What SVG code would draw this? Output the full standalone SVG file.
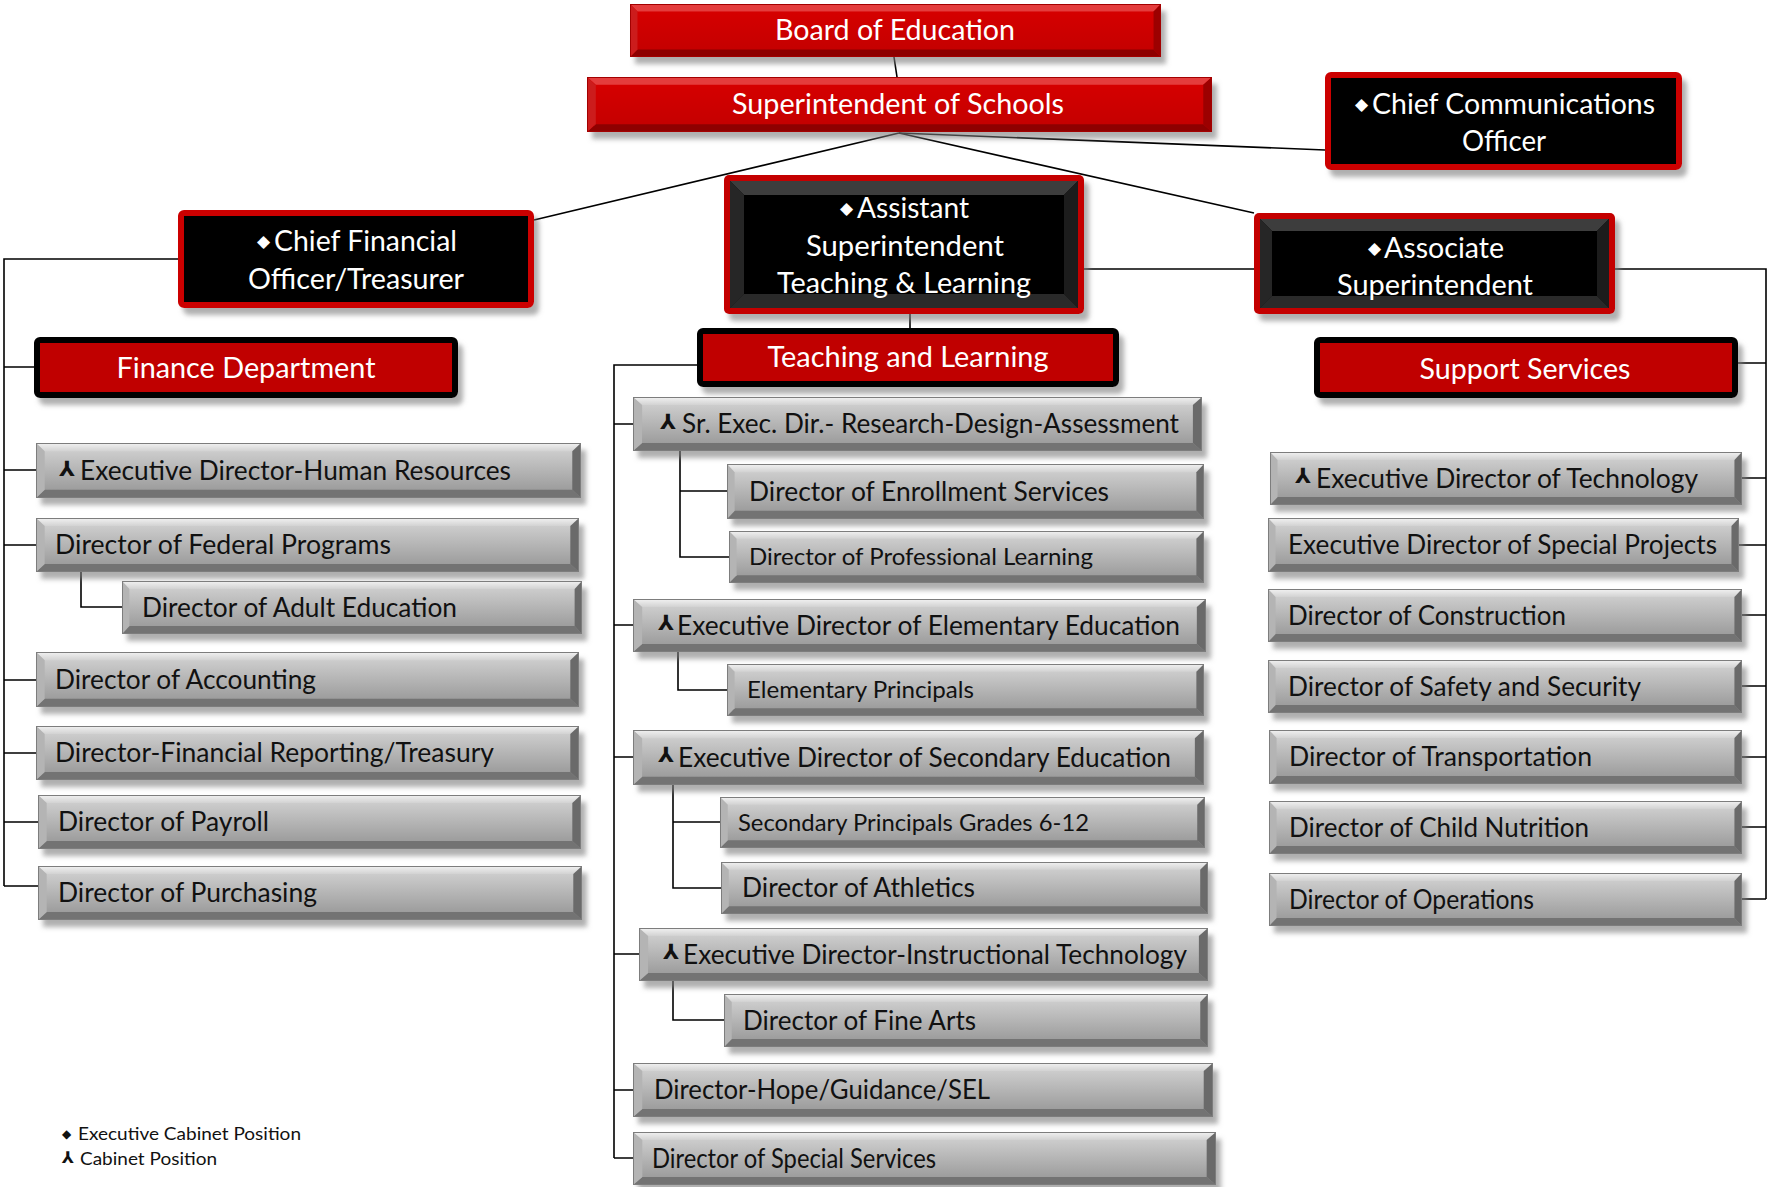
<svg xmlns="http://www.w3.org/2000/svg" xmlns:xlink="http://www.w3.org/1999/xlink" width="1773" height="1187" viewBox="0 0 1773 1187">
<style>
.conn{stroke:#000;stroke-width:1.6;fill:none}
.tw{fill:#fff;font-family:Lato,"Liberation Sans",sans-serif;font-size:28px}
.tg{fill:#111;font-family:Lato,"Liberation Sans",sans-serif;font-size:26px}
.ts{font-size:23px}
.sym{font-family:"DejaVu Sans",sans-serif;font-size:17px}
.yy{font-family:"DejaVu Sans",sans-serif;font-size:21px;font-weight:bold}
.symw{fill:#fff}
.symg{fill:#111}
.mid{text-anchor:middle}
.leg{fill:#111;font-family:Lato,"Liberation Sans",sans-serif;font-size:18px}
</style>
<defs>
<filter id="sh" x="-5%" y="-15%" width="115%" height="150%">
<feDropShadow dx="5" dy="7" stdDeviation="2.5" flood-color="#7a7a7a" flood-opacity="0.6"/>
</filter>
<linearGradient id="gGrey" x1="0" y1="0" x2="0" y2="1">
<stop offset="0" stop-color="#d6d6d6"/><stop offset="1" stop-color="#939393"/>
</linearGradient>
<linearGradient id="gGreyTop" x1="0" y1="0" x2="0" y2="1">
<stop offset="0" stop-color="#f2f2f2"/><stop offset="1" stop-color="#d2d2d2"/>
</linearGradient>
<linearGradient id="gRed" x1="0" y1="0" x2="0" y2="1">
<stop offset="0" stop-color="#d80000"/><stop offset="1" stop-color="#c20000"/>
</linearGradient>
<symbol id="bvGrey" viewBox="0 0 100 10" preserveAspectRatio="none">
<rect width="100" height="10" fill="url(#gGrey)"/>
<polygon points="0,0 100,0 98.4,1.5 1.6,1.5" fill="url(#gGreyTop)"/>
<polygon points="0,10 100,10 98.4,8.5 1.6,8.5" fill="#737373"/>
<polygon points="0,0 1.6,1.5 1.6,8.5 0,10" fill="#b4b4b4"/>
<polygon points="100,0 98.4,1.5 98.4,8.5 100,10" fill="#6a6a6a"/>
<rect width="100" height="10" fill="none" stroke="#7d7d7d" stroke-width="2" vector-effect="non-scaling-stroke"/>
</symbol>
<symbol id="bvRed" viewBox="0 0 100 10" preserveAspectRatio="none">
<rect width="100" height="10" fill="url(#gRed)"/>
<polygon points="0,0 100,0 98.6,1.4 1.4,1.4" fill="#e43c3c"/>
<polygon points="0,10 100,10 98.6,8.6 1.4,8.6" fill="#8e0000"/>
<polygon points="0,0 1.4,1.4 1.4,8.6 0,10" fill="#cc1a1a"/>
<polygon points="100,0 98.6,1.4 98.6,8.6 100,10" fill="#9c0000"/>
<rect width="100" height="10" fill="none" stroke="#a30000" stroke-width="2" vector-effect="non-scaling-stroke"/>
</symbol>
</defs>
<rect width="1773" height="1187" fill="#fff"/>

<g id="connectors">
<path class="conn" d="M894,57 L897,77"/>
<path class="conn" d="M899,133 L534,220"/>
<path class="conn" d="M899,133 L1254,213"/>
<path class="conn" d="M899,133 L1325,150"/>
<path class="conn" d="M910,314 V328"/>
<path class="conn" d="M1084,269 H1254"/>
<path class="conn" d="M1615,269 H1766 V899"/>
<path class="conn" d="M1738,363 H1766 M1742,478 H1766 M1739,545 H1766 M1742,615 H1766 M1742,686 H1766 M1742,757 H1766 M1742,827 H1766 M1742,899 H1766"/>
<path class="conn" d="M178,259 H4 V886"/>
<path class="conn" d="M4,367 H34 M4,470 H36 M4,545 H36 M4,680 H36 M4,753 H36 M4,822 H38 M4,886 H38"/>
<path class="conn" d="M81,572 V607 H122"/>
<path class="conn" d="M697,365 H614 V1158"/>
<path class="conn" d="M614,424 H633 M614,625 H633 M614,757 H633 M614,954 H639 M614,1090 H633 M614,1158 H633"/>
<path class="conn" d="M680,451 V557 H729 M680,491 H727"/>
<path class="conn" d="M678,652 V690 H727"/>
<path class="conn" d="M673,785 V888 H721 M673,822 H720"/>
<path class="conn" d="M673,981 V1020 H724"/>
</g>

<g id="board">
<use xlink:href="#bvRed" x="630" y="4" width="531" height="53" filter="url(#sh)"/>
<text class="tw mid" x="895" y="40" textLength="240" lengthAdjust="spacingAndGlyphs">Board of Education</text>
</g>
<g id="superintendent">
<use xlink:href="#bvRed" x="587" y="77" width="625" height="55" filter="url(#sh)"/>
<text class="tw mid" x="898" y="114" textLength="332" lengthAdjust="spacingAndGlyphs">Superintendent of Schools</text>
</g>
<g id="cco">
<rect x="1328" y="75" width="351" height="92" rx="3" fill="#000" stroke="#cc0000" stroke-width="6" filter="url(#sh)"/>
<text class="sym symw" x="1355" y="110">◆</text>
<text class="tw" x="1372" y="114" textLength="283" lengthAdjust="spacingAndGlyphs">Chief Communications</text>
<text class="tw mid" x="1504" y="151" textLength="84" lengthAdjust="spacingAndGlyphs">Officer</text>
</g>
<g id="cfo">
<rect x="181" y="213" width="350" height="92" rx="3" fill="#000" stroke="#cc0000" stroke-width="6" filter="url(#sh)"/>
<text class="sym symw" x="257" y="247">◆</text>
<text class="tw" x="274" y="251" textLength="183" lengthAdjust="spacingAndGlyphs">Chief Financial</text>
<text class="tw mid" x="356" y="289" textLength="216" lengthAdjust="spacingAndGlyphs">Officer/Treasurer</text>
</g>
<g id="asst">
<g filter="url(#sh)">
<rect x="724" y="175" width="360" height="139" rx="5" fill="#c40000"/>
<rect x="730" y="181" width="348" height="127" fill="#030303"/>
<polygon points="730,181 1078,181 1064,195 744,195" fill="#3c3c3c"/>
<polygon points="730,181 744,195 744,294 730,308" fill="#262626"/>
<polygon points="1078,181 1064,195 1064,294 1078,308" fill="#1a1a1a"/>
<polygon points="730,308 1078,308 1064,294 744,294" fill="#2c2c2c"/>
</g>
<text class="sym symw" x="840" y="214">◆</text>
<text class="tw" x="857" y="218" textLength="112" lengthAdjust="spacingAndGlyphs">Assistant</text>
<text class="tw mid" x="905" y="256" textLength="198" lengthAdjust="spacingAndGlyphs">Superintendent</text>
<text class="tw mid" x="904" y="293" textLength="254" lengthAdjust="spacingAndGlyphs">Teaching &amp; Learning</text>
</g>
<g id="assoc">
<g filter="url(#sh)">
<rect x="1254" y="213" width="361" height="101" rx="5" fill="#c40000"/>
<rect x="1260" y="219" width="349" height="89" fill="#030303"/>
<polygon points="1260,219 1609,219 1597,231 1272,231" fill="#3c3c3c"/>
<polygon points="1260,219 1272,231 1272,296 1260,308" fill="#262626"/>
<polygon points="1609,219 1597,231 1597,296 1609,308" fill="#1a1a1a"/>
<polygon points="1260,308 1609,308 1597,296 1272,296" fill="#2c2c2c"/>
</g>
<text class="sym symw" x="1368" y="254">◆</text>
<text class="tw" x="1384" y="258" textLength="120" lengthAdjust="spacingAndGlyphs">Associate</text>
<text class="tw mid" x="1435" y="295" textLength="196" lengthAdjust="spacingAndGlyphs">Superintendent</text>
</g>
<g id="finance">
<rect x="37" y="340" width="418" height="55" rx="3" fill="#c00000" stroke="#000" stroke-width="6" filter="url(#sh)"/>
<text class="tw mid" x="246" y="378" textLength="259" lengthAdjust="spacingAndGlyphs">Finance Department</text>
</g>
<g id="teaching">
<rect x="700" y="331" width="416" height="53" rx="3" fill="#c00000" stroke="#000" stroke-width="6" filter="url(#sh)"/>
<text class="tw mid" x="908" y="367" textLength="281" lengthAdjust="spacingAndGlyphs">Teaching and Learning</text>
</g>
<g id="support">
<rect x="1317" y="340" width="418" height="55" rx="3" fill="#c00000" stroke="#000" stroke-width="6" filter="url(#sh)"/>
<text class="tw mid" x="1525" y="379" textLength="211" lengthAdjust="spacingAndGlyphs">Support Services</text>
</g>

<g id="hr"><use xlink:href="#bvGrey" x="36" y="443" width="545" height="55" filter="url(#sh)"/>
<text class="yy symg" x="59" y="476">⅄</text>
<text class="tg" x="80" y="479.5" textLength="431" lengthAdjust="spacingAndGlyphs">Executive Director-Human Resources</text></g>
<g id="federal"><use xlink:href="#bvGrey" x="36" y="518" width="543" height="54" filter="url(#sh)"/>
<text class="tg" x="55" y="554" textLength="336" lengthAdjust="spacingAndGlyphs">Director of Federal Programs</text></g>
<g id="adult"><use xlink:href="#bvGrey" x="122" y="581" width="460" height="53" filter="url(#sh)"/>
<text class="tg" x="142" y="616.5" textLength="315" lengthAdjust="spacingAndGlyphs">Director of Adult Education</text></g>
<g id="accounting"><use xlink:href="#bvGrey" x="36" y="652" width="543" height="55" filter="url(#sh)"/>
<text class="tg" x="55" y="688.5" textLength="261" lengthAdjust="spacingAndGlyphs">Director of Accounting</text></g>
<g id="finreport"><use xlink:href="#bvGrey" x="36" y="726" width="543" height="54" filter="url(#sh)"/>
<text class="tg" x="55" y="762" textLength="439" lengthAdjust="spacingAndGlyphs">Director-Financial Reporting/Treasury</text></g>
<g id="payroll"><use xlink:href="#bvGrey" x="38" y="795" width="543" height="54" filter="url(#sh)"/>
<text class="tg" x="58" y="831" textLength="211" lengthAdjust="spacingAndGlyphs">Director of Payroll</text></g>
<g id="purchasing"><use xlink:href="#bvGrey" x="38" y="866" width="544" height="54" filter="url(#sh)"/>
<text class="tg" x="58" y="902" textLength="259" lengthAdjust="spacingAndGlyphs">Director of Purchasing</text></g>

<g id="srexec"><use xlink:href="#bvGrey" x="633" y="397" width="569" height="54" filter="url(#sh)"/>
<text class="yy symg" x="660" y="429">⅄</text>
<text class="tg" x="682" y="433" textLength="497" lengthAdjust="spacingAndGlyphs">Sr. Exec. Dir.- Research-Design-Assessment</text></g>
<g id="enrollment"><use xlink:href="#bvGrey" x="727" y="464" width="477" height="55" filter="url(#sh)"/>
<text class="tg" x="749" y="500.5" textLength="360" lengthAdjust="spacingAndGlyphs">Director of Enrollment Services</text></g>
<g id="proflearning"><use xlink:href="#bvGrey" x="729" y="531" width="475" height="52" filter="url(#sh)"/>
<text class="tg ts" x="749" y="565" textLength="344" lengthAdjust="spacingAndGlyphs">Director of Professional Learning</text></g>
<g id="execelem"><use xlink:href="#bvGrey" x="633" y="599" width="573" height="53" filter="url(#sh)"/>
<text class="yy symg" x="658" y="630">⅄</text>
<text class="tg" x="677" y="634.5" textLength="503" lengthAdjust="spacingAndGlyphs">Executive Director of Elementary Education</text></g>
<g id="elemprincipals"><use xlink:href="#bvGrey" x="727" y="664" width="477" height="52" filter="url(#sh)"/>
<text class="tg ts" x="747" y="698" textLength="227" lengthAdjust="spacingAndGlyphs">Elementary Principals</text></g>
<g id="execsec"><use xlink:href="#bvGrey" x="633" y="730" width="571" height="55" filter="url(#sh)"/>
<text class="yy symg" x="658" y="762">⅄</text>
<text class="tg" x="678" y="766.5" textLength="493" lengthAdjust="spacingAndGlyphs">Executive Director of Secondary Education</text></g>
<g id="secprincipals"><use xlink:href="#bvGrey" x="720" y="797" width="485" height="51" filter="url(#sh)"/>
<text class="tg ts" x="738" y="830.5" textLength="351" lengthAdjust="spacingAndGlyphs">Secondary Principals Grades 6-12</text></g>
<g id="athletics"><use xlink:href="#bvGrey" x="721" y="862" width="487" height="52" filter="url(#sh)"/>
<text class="tg" x="742" y="897" textLength="233" lengthAdjust="spacingAndGlyphs">Director of Athletics</text></g>
<g id="instrtech"><use xlink:href="#bvGrey" x="639" y="928" width="569" height="53" filter="url(#sh)"/>
<text class="yy symg" x="663" y="959">⅄</text>
<text class="tg" x="683" y="963.5" textLength="504" lengthAdjust="spacingAndGlyphs">Executive Director-Instructional Technology</text></g>
<g id="finearts"><use xlink:href="#bvGrey" x="724" y="994" width="484" height="53" filter="url(#sh)"/>
<text class="tg" x="743" y="1029.5" textLength="233" lengthAdjust="spacingAndGlyphs">Director of Fine Arts</text></g>
<g id="hope"><use xlink:href="#bvGrey" x="633" y="1063" width="580" height="54" filter="url(#sh)"/>
<text class="tg" x="654" y="1099" textLength="336" lengthAdjust="spacingAndGlyphs">Director-Hope/Guidance/SEL</text></g>
<g id="special"><use xlink:href="#bvGrey" x="633" y="1132" width="583" height="53" filter="url(#sh)"/>
<text class="tg" x="652" y="1167.5" textLength="284" lengthAdjust="spacingAndGlyphs">Director of Special Services</text></g>

<g id="exectech"><use xlink:href="#bvGrey" x="1270" y="452" width="472" height="53" filter="url(#sh)"/>
<text class="yy symg" x="1295" y="483">⅄</text>
<text class="tg" x="1316" y="487.5" textLength="382" lengthAdjust="spacingAndGlyphs">Executive Director of Technology</text></g>
<g id="specprojects"><use xlink:href="#bvGrey" x="1268" y="518" width="471" height="54" filter="url(#sh)"/>
<text class="tg" x="1288" y="554" textLength="429" lengthAdjust="spacingAndGlyphs">Executive Director of Special Projects</text></g>
<g id="construction"><use xlink:href="#bvGrey" x="1268" y="589" width="474" height="53" filter="url(#sh)"/>
<text class="tg" x="1288" y="624.5" textLength="278" lengthAdjust="spacingAndGlyphs">Director of Construction</text></g>
<g id="safety"><use xlink:href="#bvGrey" x="1268" y="660" width="474" height="53" filter="url(#sh)"/>
<text class="tg" x="1288" y="695.5" textLength="353" lengthAdjust="spacingAndGlyphs">Director of Safety and Security</text></g>
<g id="transportation"><use xlink:href="#bvGrey" x="1269" y="730" width="473" height="54" filter="url(#sh)"/>
<text class="tg" x="1289" y="766" textLength="303" lengthAdjust="spacingAndGlyphs">Director of Transportation</text></g>
<g id="nutrition"><use xlink:href="#bvGrey" x="1269" y="801" width="473" height="53" filter="url(#sh)"/>
<text class="tg" x="1289" y="836.5" textLength="300" lengthAdjust="spacingAndGlyphs">Director of Child Nutrition</text></g>
<g id="operations"><use xlink:href="#bvGrey" x="1269" y="873" width="473" height="53" filter="url(#sh)"/>
<text class="tg" x="1289" y="908.5" textLength="245" lengthAdjust="spacingAndGlyphs">Director of Operations</text></g>

<g id="legend">
<text class="sym symg" x="62" y="1138" style="font-size:12px">◆</text>
<text class="leg" x="78" y="1140" textLength="223" lengthAdjust="spacingAndGlyphs">Executive Cabinet Position</text>
<text class="yy symg" x="62" y="1163" style="font-size:16px">⅄</text>
<text class="leg" x="80" y="1165" textLength="137" lengthAdjust="spacingAndGlyphs">Cabinet Position</text>
</g>
</svg>
